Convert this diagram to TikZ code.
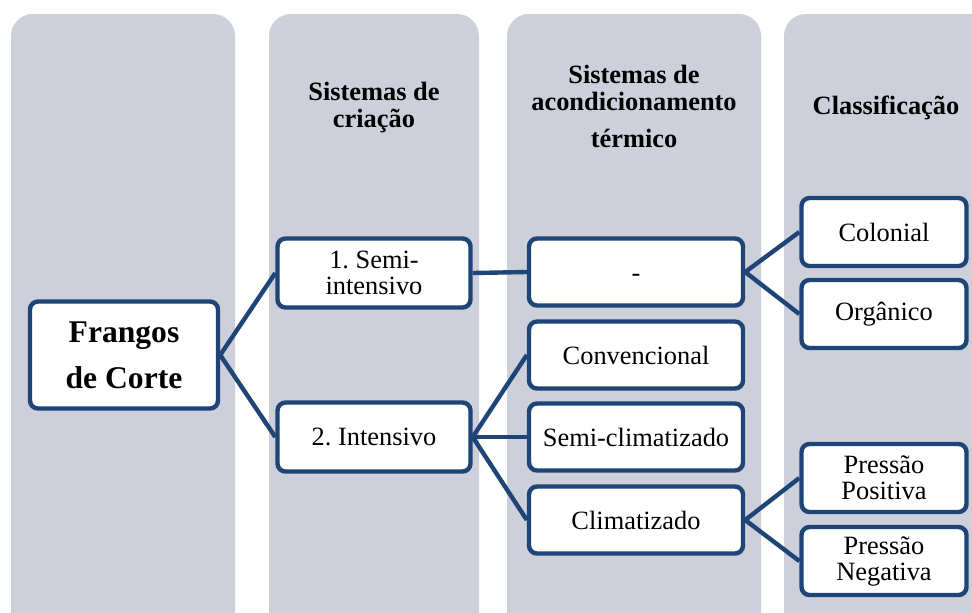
\documentclass[tikz,border=0pt]{standalone}
\usepackage{fontspec}
\setmainfont{Liberation Serif}
\frenchspacing
\definecolor{colbg}{HTML}{CDD0DA}
\definecolor{boxblue}{HTML}{1F4476}
\begin{document}
\begin{tikzpicture}[x=0.5pt,y=-0.5pt,
  column/.style={fill=colbg,draw=none,rounded corners=11pt},
  box/.style={draw=boxblue,fill=white,line width=2.2pt,rounded corners=4pt,align=center,inner sep=1pt,font=\fontsize{13.2}{13}\selectfont},
  rootbox/.style={box,minimum width=94pt,minimum height=53.5pt,font=\fontsize{15.8}{23}\selectfont\bfseries},
  boxa/.style={box,minimum width=96.5pt,minimum height=34.5pt},
  boxb/.style={box,minimum width=107pt,minimum height=33.5pt},
  boxc/.style={box,minimum width=82.5pt,minimum height=34pt},
  header/.style={align=center,font=\fontsize{13.2}{13.5}\selectfont\bfseries},
  link/.style={draw=boxblue,line width=2.2pt}]
\useasboundingbox (0,0) rectangle (972,612);
\clip (0,0) rectangle (972,612);
\fill[white] (0,0) rectangle (972,612);
% columns
\fill[column] (11,14) rectangle (235,660);
\fill[column] (269,14) rectangle (479,660);
\fill[column] (507,14) rectangle (761,660);
\fill[column] (784,14) rectangle (1020,660);
% headers
\node[header] (h2) at (374,108) {Sistemas de\\criação};
\node[header] (h3) at (634,106) {Sistemas de\\acondicionamento\\[5pt]térmico};
\node[header] (h4) at (886,108) {Classificação};
% nodes
\node[rootbox] (root) at (124,355) {Frangos\\de Corte};
\node[boxa] (semi) at (374,273) {1. Semi-\\intensivo};
\node[boxa] (int) at (374,437) {2. Intensivo};
\node[boxb] (dash) at (636,272) {\smash{\raisebox{-4.5pt}{-}}};
\node[boxb] (conv) at (636,355) {Convencional};
\node[boxb] (semic) at (636,437) {Semi-climatizado};
\node[boxb] (clim) at (636,520) {Climatizado};
\node[boxc] (colo) at (884,232) {Colonial};
\node[boxc] (org) at (884,314) {Orgânico};
\node[boxc] (ppos) at (884,478) {Pressão\\Positiva};
\node[boxc] (pneg) at (884,561) {Pressão\\Negativa};
% connectors
\draw[link] (root.east) -- (semi.west);
\draw[link] (root.east) -- (int.west);
\draw[link] (semi.east) -- (dash.west);
\draw[link] (dash.east) -- (colo.west);
\draw[link] (dash.east) -- (org.west);
\draw[link] (int.east) -- (conv.west);
\draw[link] (int.east) -- (semic.west);
\draw[link] (int.east) -- (clim.west);
\draw[link] (clim.east) -- (ppos.west);
\draw[link] (clim.east) -- (pneg.west);
\end{tikzpicture}
\end{document}
